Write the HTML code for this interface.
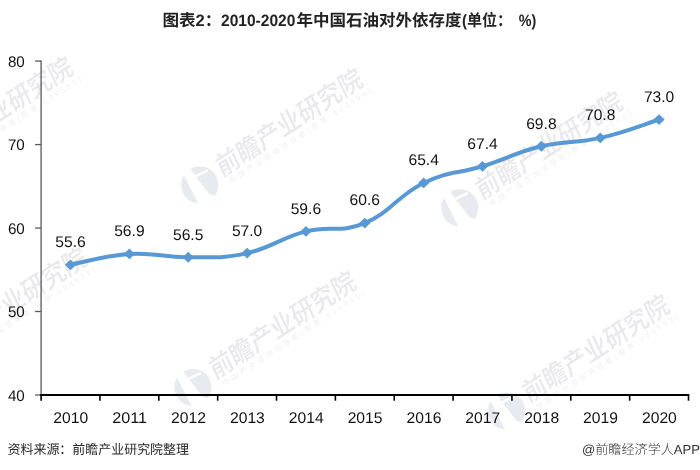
<!DOCTYPE html>
<html lang="zh-CN"><head><meta charset="utf-8"><title>图表2：2010-2020年中国石油对外依存度(单位：%)</title>
<style>html,body{margin:0;padding:0;background:#fff;}body{width:700px;height:470px;overflow:hidden;}svg{display:block;will-change:transform;}text{font-family:"Liberation Sans", "Noto Sans CJK SC", sans-serif;text-rendering:geometricPrecision;}</style></head><body>
<svg width="700" height="470" viewBox="0 0 700 470">
<rect width="700" height="470" fill="#fff"/>
<g transform="translate(-90.2 173.3)"><circle cx="0" cy="0" r="18.6" fill="#e7eaee"/><path d="M-19 -16 L-12 -19.5 L-3.3 -7.4 L10.1 9.7 L20 12 L20 22 L-1 22 L-1.8 17.9 Z" fill="#fff"/><path d="M-5.5 -8.2 L8 -14.6" stroke="#fff" stroke-width="2.6" fill="none"/><g transform="rotate(-33.1)"><g transform="translate(22.6 5.6) scale(0.94 1) skewX(-8)"><text x="0" y="0" font-size="26" font-weight="500" fill="#e9e9ed" textLength="181" lengthAdjust="spacingAndGlyphs">前瞻产业研究院</text></g><text x="27" y="16.2" font-size="7.5" fill="#eff0f2" letter-spacing="2.8">中国产业咨询领导者(股票:839599)</text></g></g>
<g transform="translate(199.8 185.0)"><circle cx="0" cy="0" r="18.6" fill="#e7eaee"/><path d="M-19 -16 L-12 -19.5 L-3.3 -7.4 L10.1 9.7 L20 12 L20 22 L-1 22 L-1.8 17.9 Z" fill="#fff"/><path d="M-5.5 -8.2 L8 -14.6" stroke="#fff" stroke-width="2.6" fill="none"/><g transform="rotate(-33.1)"><g transform="translate(22.6 5.6) scale(0.94 1) skewX(-8)"><text x="0" y="0" font-size="26" font-weight="500" fill="#e9e9ed" textLength="181" lengthAdjust="spacingAndGlyphs">前瞻产业研究院</text></g><text x="27" y="16.2" font-size="7.5" fill="#eff0f2" letter-spacing="2.8">中国产业咨询领导者(股票:839599)</text></g></g>
<g transform="translate(459.8 207.8)"><circle cx="0" cy="0" r="18.6" fill="#e7eaee"/><path d="M-19 -16 L-12 -19.5 L-3.3 -7.4 L10.1 9.7 L20 12 L20 22 L-1 22 L-1.8 17.9 Z" fill="#fff"/><path d="M-5.5 -8.2 L8 -14.6" stroke="#fff" stroke-width="2.6" fill="none"/><g transform="rotate(-33.1)"><g transform="translate(22.6 5.6) scale(0.94 1) skewX(-8)"><text x="0" y="0" font-size="26" font-weight="500" fill="#e9e9ed" textLength="181" lengthAdjust="spacingAndGlyphs">前瞻产业研究院</text></g><text x="27" y="16.2" font-size="7.5" fill="#eff0f2" letter-spacing="2.8">中国产业咨询领导者(股票:839599)</text></g></g>
<g transform="translate(-76.1 363.7)"><circle cx="0" cy="0" r="18.6" fill="#e7eaee"/><path d="M-19 -16 L-12 -19.5 L-3.3 -7.4 L10.1 9.7 L20 12 L20 22 L-1 22 L-1.8 17.9 Z" fill="#fff"/><path d="M-5.5 -8.2 L8 -14.6" stroke="#fff" stroke-width="2.6" fill="none"/><g transform="rotate(-33.1)"><g transform="translate(22.6 5.6) scale(0.94 1) skewX(-8)"><text x="0" y="0" font-size="26" font-weight="500" fill="#e9e9ed" textLength="181" lengthAdjust="spacingAndGlyphs">前瞻产业研究院</text></g><text x="27" y="16.2" font-size="7.5" fill="#eff0f2" letter-spacing="2.8">中国产业咨询领导者(股票:839599)</text></g></g>
<g transform="translate(193.0 387.5)"><circle cx="0" cy="0" r="18.6" fill="#e7eaee"/><path d="M-19 -16 L-12 -19.5 L-3.3 -7.4 L10.1 9.7 L20 12 L20 22 L-1 22 L-1.8 17.9 Z" fill="#fff"/><path d="M-5.5 -8.2 L8 -14.6" stroke="#fff" stroke-width="2.6" fill="none"/><g transform="rotate(-33.1)"><g transform="translate(22.6 5.6) scale(0.94 1) skewX(-8)"><text x="0" y="0" font-size="26" font-weight="500" fill="#e9e9ed" textLength="181" lengthAdjust="spacingAndGlyphs">前瞻产业研究院</text></g><text x="27" y="16.2" font-size="7.5" fill="#eff0f2" letter-spacing="2.8">中国产业咨询领导者(股票:839599)</text></g></g>
<g transform="translate(506.5 411.0)"><circle cx="0" cy="0" r="18.6" fill="#e7eaee"/><path d="M-19 -16 L-12 -19.5 L-3.3 -7.4 L10.1 9.7 L20 12 L20 22 L-1 22 L-1.8 17.9 Z" fill="#fff"/><path d="M-5.5 -8.2 L8 -14.6" stroke="#fff" stroke-width="2.6" fill="none"/><g transform="rotate(-33.1)"><g transform="translate(22.6 5.6) scale(0.94 1) skewX(-8)"><text x="0" y="0" font-size="26" font-weight="500" fill="#e9e9ed" textLength="181" lengthAdjust="spacingAndGlyphs">前瞻产业研究院</text></g><text x="27" y="16.2" font-size="7.5" fill="#eff0f2" letter-spacing="2.8">中国产业咨询领导者(股票:839599)</text></g></g>
<g stroke="#595959" stroke-width="1.3" fill="none">
<path d="M41.1 60.5 V395.0"/>
<path d="M35.1 395.00 H41.1"/>
<path d="M35.1 311.52 H41.1"/>
<path d="M35.1 228.05 H41.1"/>
<path d="M35.1 144.58 H41.1"/>
<path d="M35.1 61.10 H41.1"/>
</g>
<g stroke="#000" fill="none">
<path d="M40.3 395.0 H689.3" stroke-width="1.9"/>
<path d="M41.10 395.0 V400.7" stroke-width="1.6"/>
<path d="M99.95 395.0 V400.7" stroke-width="1.6"/>
<path d="M158.81 395.0 V400.7" stroke-width="1.6"/>
<path d="M217.66 395.0 V400.7" stroke-width="1.6"/>
<path d="M276.52 395.0 V400.7" stroke-width="1.6"/>
<path d="M335.37 395.0 V400.7" stroke-width="1.6"/>
<path d="M394.23 395.0 V400.7" stroke-width="1.6"/>
<path d="M453.08 395.0 V400.7" stroke-width="1.6"/>
<path d="M511.94 395.0 V400.7" stroke-width="1.6"/>
<path d="M570.79 395.0 V400.7" stroke-width="1.6"/>
<path d="M629.65 395.0 V400.7" stroke-width="1.6"/>
<path d="M688.50 395.0 V400.7" stroke-width="1.6"/>
</g>
<text x="24.8" y="400.5" font-size="15.4" fill="#111" text-anchor="end" textLength="16.9" lengthAdjust="spacingAndGlyphs">40</text>
<text x="24.8" y="317.0" font-size="15.4" fill="#111" text-anchor="end" textLength="16.9" lengthAdjust="spacingAndGlyphs">50</text>
<text x="24.8" y="233.6" font-size="15.4" fill="#111" text-anchor="end" textLength="16.9" lengthAdjust="spacingAndGlyphs">60</text>
<text x="24.8" y="150.1" font-size="15.4" fill="#111" text-anchor="end" textLength="16.9" lengthAdjust="spacingAndGlyphs">70</text>
<text x="24.8" y="66.6" font-size="15.4" fill="#111" text-anchor="end" textLength="16.9" lengthAdjust="spacingAndGlyphs">80</text>
<text x="70.8" y="423" font-size="15.4" fill="#111" text-anchor="middle" textLength="34.9" lengthAdjust="spacingAndGlyphs">2010</text>
<text x="129.7" y="423" font-size="15.4" fill="#111" text-anchor="middle" textLength="34.9" lengthAdjust="spacingAndGlyphs">2011</text>
<text x="188.5" y="423" font-size="15.4" fill="#111" text-anchor="middle" textLength="34.9" lengthAdjust="spacingAndGlyphs">2012</text>
<text x="247.4" y="423" font-size="15.4" fill="#111" text-anchor="middle" textLength="34.9" lengthAdjust="spacingAndGlyphs">2013</text>
<text x="306.2" y="423" font-size="15.4" fill="#111" text-anchor="middle" textLength="34.9" lengthAdjust="spacingAndGlyphs">2014</text>
<text x="365.1" y="423" font-size="15.4" fill="#111" text-anchor="middle" textLength="34.9" lengthAdjust="spacingAndGlyphs">2015</text>
<text x="424.0" y="423" font-size="15.4" fill="#111" text-anchor="middle" textLength="34.9" lengthAdjust="spacingAndGlyphs">2016</text>
<text x="482.8" y="423" font-size="15.4" fill="#111" text-anchor="middle" textLength="34.9" lengthAdjust="spacingAndGlyphs">2017</text>
<text x="541.7" y="423" font-size="15.4" fill="#111" text-anchor="middle" textLength="34.9" lengthAdjust="spacingAndGlyphs">2018</text>
<text x="600.5" y="423" font-size="15.4" fill="#111" text-anchor="middle" textLength="34.9" lengthAdjust="spacingAndGlyphs">2019</text>
<text x="659.4" y="423" font-size="15.4" fill="#111" text-anchor="middle" textLength="34.9" lengthAdjust="spacingAndGlyphs">2020</text>
<path d="M70.53 264.78 C83.61 262.37 103.22 255.60 129.38 253.93 C155.54 252.26 162.08 257.45 188.24 257.27 C214.39 257.08 220.93 258.84 247.09 253.09 C273.25 247.34 279.79 238.07 305.95 231.39 C332.10 224.71 338.64 233.80 364.80 223.04 C390.96 212.28 397.50 195.59 423.65 182.97 C449.81 170.36 456.35 174.44 482.51 166.28 C508.67 158.12 515.21 152.55 541.36 146.24 C567.52 139.94 574.06 143.83 600.22 137.90 C626.38 131.96 645.99 123.61 659.07 119.53" fill="none" stroke="#5898d4" stroke-width="4" stroke-linecap="round" stroke-linejoin="round"/>
<path d="M70.53 259.38 l5.6 5.4 l-5.6 5.4 l-5.6 -5.4 Z" fill="#5898d4"/>
<path d="M129.38 248.53 l5.6 5.4 l-5.6 5.4 l-5.6 -5.4 Z" fill="#5898d4"/>
<path d="M188.24 251.87 l5.6 5.4 l-5.6 5.4 l-5.6 -5.4 Z" fill="#5898d4"/>
<path d="M247.09 247.69 l5.6 5.4 l-5.6 5.4 l-5.6 -5.4 Z" fill="#5898d4"/>
<path d="M305.95 225.99 l5.6 5.4 l-5.6 5.4 l-5.6 -5.4 Z" fill="#5898d4"/>
<path d="M364.80 217.64 l5.6 5.4 l-5.6 5.4 l-5.6 -5.4 Z" fill="#5898d4"/>
<path d="M423.65 177.57 l5.6 5.4 l-5.6 5.4 l-5.6 -5.4 Z" fill="#5898d4"/>
<path d="M482.51 160.88 l5.6 5.4 l-5.6 5.4 l-5.6 -5.4 Z" fill="#5898d4"/>
<path d="M541.36 140.84 l5.6 5.4 l-5.6 5.4 l-5.6 -5.4 Z" fill="#5898d4"/>
<path d="M600.22 132.50 l5.6 5.4 l-5.6 5.4 l-5.6 -5.4 Z" fill="#5898d4"/>
<path d="M659.07 114.13 l5.6 5.4 l-5.6 5.4 l-5.6 -5.4 Z" fill="#5898d4"/>
<text x="70.5" y="247.2" font-size="15.4" fill="#111" text-anchor="middle" textLength="30.4" lengthAdjust="spacingAndGlyphs">55.6</text>
<text x="129.4" y="236.3" font-size="15.4" fill="#111" text-anchor="middle" textLength="30.4" lengthAdjust="spacingAndGlyphs">56.9</text>
<text x="188.2" y="239.7" font-size="15.4" fill="#111" text-anchor="middle" textLength="30.4" lengthAdjust="spacingAndGlyphs">56.5</text>
<text x="247.1" y="235.5" font-size="15.4" fill="#111" text-anchor="middle" textLength="30.4" lengthAdjust="spacingAndGlyphs">57.0</text>
<text x="305.9" y="213.8" font-size="15.4" fill="#111" text-anchor="middle" textLength="30.4" lengthAdjust="spacingAndGlyphs">59.6</text>
<text x="364.8" y="205.4" font-size="15.4" fill="#111" text-anchor="middle" textLength="30.4" lengthAdjust="spacingAndGlyphs">60.6</text>
<text x="423.7" y="165.4" font-size="15.4" fill="#111" text-anchor="middle" textLength="30.4" lengthAdjust="spacingAndGlyphs">65.4</text>
<text x="482.5" y="148.7" font-size="15.4" fill="#111" text-anchor="middle" textLength="30.4" lengthAdjust="spacingAndGlyphs">67.4</text>
<text x="541.4" y="128.6" font-size="15.4" fill="#111" text-anchor="middle" textLength="30.4" lengthAdjust="spacingAndGlyphs">69.8</text>
<text x="600.2" y="120.3" font-size="15.4" fill="#111" text-anchor="middle" textLength="30.4" lengthAdjust="spacingAndGlyphs">70.8</text>
<text x="659.1" y="101.9" font-size="15.4" fill="#111" text-anchor="middle" textLength="30.4" lengthAdjust="spacingAndGlyphs">73.0</text>
<text x="162.4" y="26.3" font-size="16.4" font-weight="bold" fill="#222" textLength="59" lengthAdjust="spacingAndGlyphs">图表2：</text>
<text x="221" y="26.3" font-size="16.4" font-weight="bold" fill="#222" textLength="74.4" lengthAdjust="spacingAndGlyphs">2010-2020</text>
<text x="296.6" y="26.3" font-size="16.4" font-weight="bold" fill="#222" textLength="165" lengthAdjust="spacingAndGlyphs">年中国石油对外依存度</text>
<text x="462" y="26.3" font-size="16.4" font-weight="bold" fill="#222" textLength="50" lengthAdjust="spacingAndGlyphs">(单位：</text>
<text x="518.8" y="26.3" font-size="16.4" font-weight="bold" fill="#222" textLength="17.6" lengthAdjust="spacingAndGlyphs">%)</text>
<text x="7.5" y="454.3" font-size="13.2" fill="#2a2a2a" textLength="181.5" lengthAdjust="spacingAndGlyphs">资料来源：前瞻产业研究院整理</text>
<text x="582" y="454.3" font-size="13.2" font-weight="300" fill="#333" textLength="118" lengthAdjust="spacingAndGlyphs">@前瞻经济学人APP</text>
</svg></body></html>
